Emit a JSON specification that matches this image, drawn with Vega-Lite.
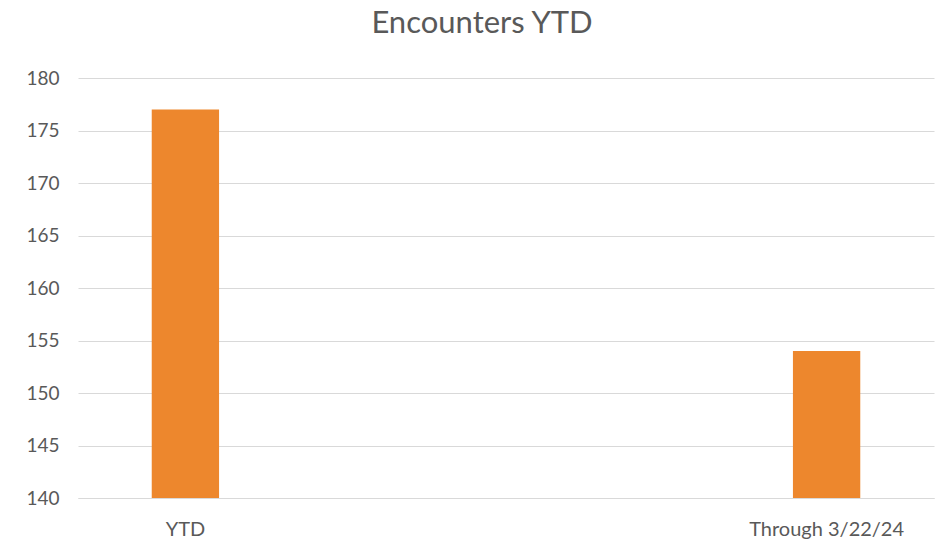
{
  "$schema": "https://vega.github.io/schema/vega-lite/v6.json",
  "autosize": "none",
  "width": 856,
  "height": 420,
  "padding": {"left": 78, "top": 78, "right": 8, "bottom": 45},
  "background": "white",
  "title": {
    "text": "Encounters YTD",
    "font": "Lato",
    "fontSize": 31,
    "fontWeight": "normal",
    "color": "#595959",
    "anchor": "middle",
    "frame": "group",
    "dx": -24,
    "dy": -29,
    "offset": 0
  },
  "data": {
    "values": [
      {"category": "YTD", "encounters": 177},
      {"category": "Through 3/22/24", "encounters": 154}
    ]
  },
  "mark": {"type": "bar", "color": "#ED872D", "clip": true},
  "encoding": {
    "x": {
      "field": "category",
      "type": "nominal",
      "sort": null,
      "title": null,
      "scale": {"paddingInner": 0.895, "paddingOuter": 0.115},
      "axis": {
        "labelAngle": 0,
        "ticks": false,
        "domainColor": "#d9d9d9",
        "domainWidth": 1,
        "labelFont": "Lato",
        "labelFontSize": 20,
        "labelColor": "#595959",
        "labelPadding": 21
      }
    },
    "y": {
      "field": "encounters",
      "type": "quantitative",
      "title": null,
      "scale": {"domain": [140, 180], "zero": false, "nice": false},
      "axis": {
        "values": [140, 145, 150, 155, 160, 165, 170, 175, 180],
        "domain": false,
        "ticks": false,
        "gridColor": "#d9d9d9",
        "gridWidth": 1,
        "labelFont": "Lato",
        "labelFontSize": 19,
        "labelColor": "#595959",
        "labelPadding": 19
      }
    }
  },
  "config": {"view": {"stroke": null}}
}
